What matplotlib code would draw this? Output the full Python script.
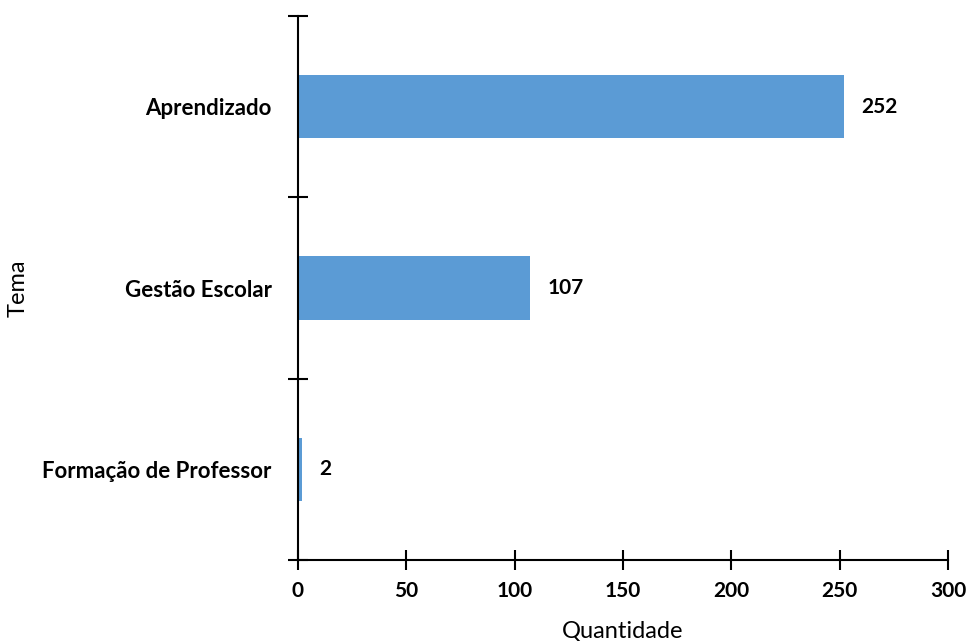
import matplotlib

matplotlib.use("Agg")
import matplotlib.pyplot as plt  # noqa: E402

plt.rcParams["font.family"] = ["Lato", "DejaVu Sans"]

temas = ["Formação de Professor", "Gestão Escolar", "Aprendizado"]
quantidades = [2, 107, 252]
x_ticks = [0, 50, 100, 150, 200, 250, 300]

BAR_COLOR = "#5B9BD5"

fig = plt.figure(figsize=(9.72, 6.41), dpi=100)
ax = fig.add_axes([298 / 972, 1 - 560 / 641, 650 / 972, 544 / 641])

pos = list(range(len(temas)))
ax.barh(pos, quantidades, height=0.35, color=BAR_COLOR)
for p, q in zip(pos, quantidades):
    ax.text(q + 8, p, str(q), va="center", ha="left", fontsize=15, fontweight="bold")

ax.set_xlim(0, 300)
ax.set_ylim(-0.5, len(temas) - 0.5)
ax.set_xticks(x_ticks)
ax.set_xticklabels([str(t) for t in x_ticks], fontsize=15, fontweight="bold")
ax.set_yticks(pos)
ax.set_yticklabels(temas, fontsize=16, fontweight="bold")
ax.tick_params(axis="y", which="major", length=0, pad=19)
ax.set_yticks([i - 0.5 for i in range(len(temas) + 1)], minor=True)
ax.tick_params(axis="y", which="minor", length=14, width=1.5, direction="inout")
ax.tick_params(axis="x", length=14, width=1.5, direction="inout", pad=8)

for side in ("top", "right"):
    ax.spines[side].set_visible(False)
for side in ("left", "bottom"):
    ax.spines[side].set_linewidth(1.5)

ax.set_xlabel("Quantidade", fontsize=17, labelpad=14)
ax.set_ylabel("Tema", fontsize=17)
ax.yaxis.set_label_coords(-0.415, 0.5)

fig.savefig("out.png", dpi=100)
